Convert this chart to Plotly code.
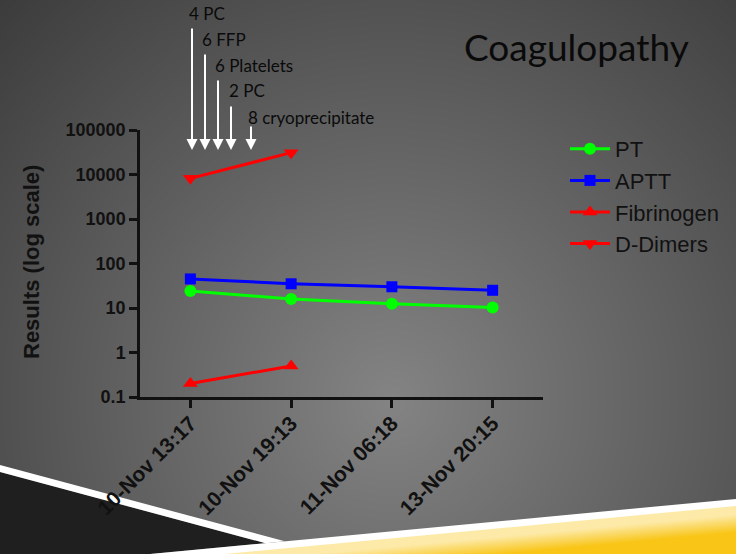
import numpy as np, zlib, struct, base64
import plotly.graph_objects as go

# ---------------- data ----------------
times = ["10-Nov 13:17", "10-Nov 19:13", "11-Nov 06:18", "13-Nov 20:15"]
pt = [24, 16, 12.5, 10.3]
aptt = [45, 35, 30, 25]
fibrinogen = [0.2, 0.5]
d_dimers = [8200, 31000]
ytick_vals = [0.1, 1, 10, 100, 1000, 10000, 100000]
ytick_text = ["0.1", "1", "10", "100", "1000", "10000", "100000"]
transfusions = ["4 PC", "6 FFP", "6 Platelets", "2 PC", "8 cryoprecipitate"]

# ---------------- layout geometry ----------------
W, H = 736, 554
L, R, T, B = 140, 193, 130, 157
PW, PH = W - L - R, H - T - B
def X(px): return (px - L) / PW
def Y(py): return 1 - (py - T) / PH

# ---------------- background image (gradient) ----------------
yy, xx = np.mgrid[0:H, 0:W].astype(float)
sx = np.where(xx < 390, 380.0, 400.0)
dn = np.sqrt(((xx - 390) / sx) ** 2 + ((yy - 400) / 400) ** 2)
v = np.clip(132 - 50 * dn, 58, 140)
img = np.stack([v, v, v], -1)
edge = 575.1 - 0.0939 * xx
t = np.clip((yy - edge - 8) / 18, 0, 1)[..., None]
light = np.array([253, 234, 168.0]); deep = np.array([249, 197, 22.0])
yel = light * (1 - t) + deep * t
mask = (yy >= edge - 4)[..., None]
img = np.where(mask, yel, img)
img = np.clip(img, 0, 255).astype(np.uint8)
raw = b''.join(b'\x00' + img[r].tobytes() for r in range(H))
def chunk(tag, d):
    c = struct.pack('>I', len(d)) + tag + d
    return c + struct.pack('>I', zlib.crc32(tag + d) & 0xffffffff)
png = (b'\x89PNG\r\n\x1a\n' + chunk(b'IHDR', struct.pack('>IIBBBBB', W, H, 8, 2, 0, 0, 0))
       + chunk(b'IDAT', zlib.compress(raw, 9)) + chunk(b'IEND', b''))
uri = 'data:image/png;base64,' + base64.b64encode(png).decode()

fig = go.Figure()
lw = 3
fig.add_trace(go.Scatter(x=times, y=pt, name="PT", mode="lines+markers",
                         line=dict(color="#00ff00", width=lw), marker=dict(symbol="circle", size=12, color="#00ff00")))
fig.add_trace(go.Scatter(x=times, y=aptt, name="APTT", mode="lines+markers",
                         line=dict(color="#0000ff", width=lw), marker=dict(symbol="square", size=11, color="#0000ff")))
fig.add_trace(go.Scatter(x=times[:2], y=fibrinogen, name="Fibrinogen", mode="lines+markers",
                         line=dict(color="#ff0000", width=lw), marker=dict(symbol="triangle-up", size=13, color="#ff0000")))
fig.add_trace(go.Scatter(x=times[:2], y=d_dimers, name="D-Dimers", mode="lines+markers",
                         line=dict(color="#ff0000", width=lw), marker=dict(symbol="triangle-down", size=13, color="#ff0000")))

def path(pts):
    return "M " + " L ".join(f"{X(a):.5f},{Y(b):.5f}" for a, b in pts) + " Z"

shapes = [
    dict(type="path", xref="paper", yref="paper", layer="below", line=dict(width=0),
         fillcolor="#1f1f1f", path=path([(0, 472), (265.5, 543.2), (150, 554), (0, 560)])),
    dict(type="path", xref="paper", yref="paper", layer="below", line=dict(width=0),
         fillcolor="#ffffff", path=path([(0, 465), (284.8, 541.3), (265.5, 543.2), (0, 472)])),
    dict(type="path", xref="paper", yref="paper", layer="below", line=dict(width=0),
         fillcolor="#ffffff", path=path([(100, 558.7), (740, 498.6), (740, 505.6), (100, 565.7)])),
]

ann = []
arrow_x_px = [192, 205, 218, 231, 251]
arrow_tail_px = [27, 53, 79, 105, 125]
label_x_px = [187, 200, 213, 227, 246]
label_y_px = [13, 39, 65, 90, 117]
for i, lab in enumerate(transfusions):
    ann.append(dict(xref="paper", yref="paper", x=X(arrow_x_px[i]), y=Y(150), text="",
                    showarrow=True, ax=0, ay=arrow_tail_px[i] - 150, arrowcolor="white",
                    arrowwidth=2, arrowhead=2, arrowsize=1.1, standoff=0))
    ann.append(dict(xref="paper", yref="paper", x=X(label_x_px[i]), y=Y(label_y_px[i]), text=lab,
                    showarrow=False, xanchor="left", yanchor="middle",
                    font=dict(family="Lato", size=17, color="#0a0a0a")))
ann.append(dict(xref="paper", yref="paper", x=X(576), y=Y(46), text="Coagulopathy", showarrow=False,
                xanchor="center", yanchor="middle", font=dict(family="Lato", size=37, color="#0a0a0a")))
ann.append(dict(xref="paper", yref="paper", x=X(31), y=Y(262), text="Results (log scale)", showarrow=False,
                textangle=-90, xanchor="center", yanchor="middle",
                font=dict(family="Liberation Sans", size=22, color="#111111", weight="bold")))

fig.update_layout(
    width=W, height=H, margin=dict(l=L, r=R, t=T, b=B, autoexpand=False),
    paper_bgcolor="#5a5a5a", plot_bgcolor="rgba(0,0,0,0)",
    images=[dict(source=uri, xref="paper", yref="paper", x=X(0), y=Y(0), sizex=W / PW, sizey=H / PH,
                 xanchor="left", yanchor="top", sizing="stretch", layer="below")],
    shapes=shapes, annotations=ann,
    showlegend=True,
    legend=dict(x=X(565), y=Y(128), xanchor="left", yanchor="top", bgcolor="rgba(0,0,0,0)",
                font=dict(family="Liberation Sans", size=22, color="#111111"), itemwidth=40),
    xaxis=dict(type="category", range=[-0.5, 3.5], showline=True, linecolor="#111111", linewidth=2.5,
               ticks="outside", ticklen=8, tickwidth=2.5, tickcolor="#111111", tickangle=-45,
               tickfont=dict(family="Liberation Sans", size=21, color="#111111", weight="bold"),
               ticklabelstandoff=-5, showgrid=False, zeroline=False),
    yaxis=dict(type="log", range=[-1, 5], showline=True, linecolor="#111111", linewidth=2.5,
               ticks="outside", ticklen=8, tickwidth=2.5, tickcolor="#111111",
               tickvals=ytick_vals, ticktext=ytick_text,
               tickfont=dict(family="Liberation Sans", size=18, color="#111111", weight="bold"),
               showgrid=False, zeroline=False),
)
fig.write_html("out.html", config={"displayModeBar": False},
               post_script="document.body.style.margin='0';document.body.style.overflow='hidden';")
